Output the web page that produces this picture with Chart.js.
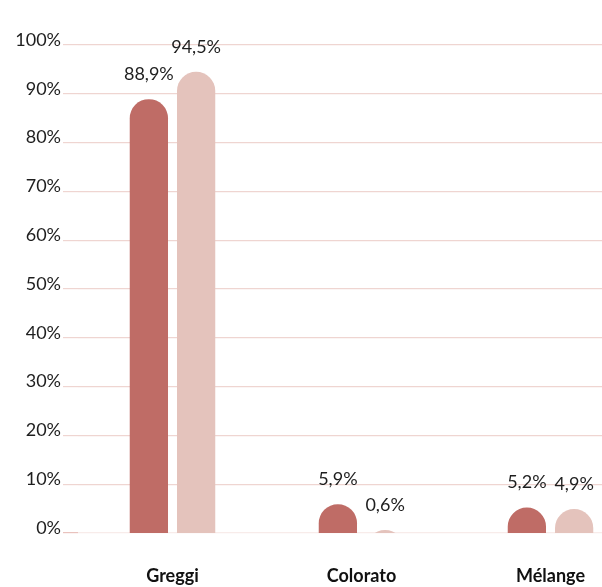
<!DOCTYPE html>
<html>
<head>
<meta charset="utf-8">
<script src="https://cdn.jsdelivr.net/npm/chart.js@4.4.0/dist/chart.umd.min.js"></script>
<style>
  html, body { margin: 0; padding: 0; background: #fff; overflow: hidden; }
  .wrap { width: 645px; height: 587px; }
</style>
</head>
<body>
<div class="wrap"><canvas id="myChart"></canvas></div>
<script>
const categories = ['Greggi', 'Colorato', 'Mélange'];
const seriesA = [88.9, 5.9, 5.2];
const seriesB = [94.5, 0.6, 4.9];
const yTicks = [0, 10, 20, 30, 40, 50, 60, 70, 80, 90, 100];

const fontFamily = 'Lato, "Open Sans", sans-serif';

// etichette sopra le barre
const valueLabels = {
    id: 'valueLabels',
    afterDatasetsDraw(chart) {
        const c = chart.ctx;
        c.save();
        c.font = '18px ' + fontFamily;
        c.fillStyle = '#1e1e1e';
        c.textAlign = 'center';
        c.textBaseline = 'middle';
        chart.data.datasets.forEach((ds, i) => {
            chart.getDatasetMeta(i).data.forEach((bar, j) => {
                c.fillText(ds.data[j].toFixed(1).replace('.', ',') + '%', bar.x, bar.y - 25);
            });
        });
        c.restore();
    }
};

const ctx = document.getElementById('myChart').getContext('2d');
const myChart = new Chart(ctx, {
    type: 'bar',
    data: {
        labels: categories,
        datasets: [{
            data: seriesA,
            backgroundColor: '#bf6c66',
            base: -10,
            clip: { left: false, right: false, top: false, bottom: 0 },
            borderRadius: { topLeft: 19, topRight: 19 },
            borderSkipped: 'bottom',
            barPercentage: 0.81,
            categoryPercentage: 0.5
        }, {
            data: seriesB,
            backgroundColor: '#e4c3bc',
            base: -10,
            clip: { left: false, right: false, top: false, bottom: 0 },
            borderRadius: { topLeft: 19, topRight: 19 },
            borderSkipped: 'bottom',
            barPercentage: 0.81,
            categoryPercentage: 0.5
        }]
    },
    options: {
        responsive: true,
        maintainAspectRatio: false,
        animation: false,
        layout: { padding: { top: 45, left: 0, right: 0, bottom: 0 } },
        plugins: {
            legend: { display: false },
            tooltip: { enabled: false }
        },
        scales: {
            x: {
                grid: { display: false, drawTicks: false },
                border: { display: false },
                ticks: {
                    padding: 32,
                    color: '#111',
                    font: { family: fontFamily, size: 18, weight: 'bold' }
                },
                afterFit: s => { s.height = 54; }
            },
            y: {
                min: 0,
                max: 100,
                afterBuildTicks: s => { s.ticks = yTicks.map(v => ({ value: v })); },
                afterFit: s => { s.width = 78; },
                border: { display: false },
                grid: {
                    color: c => c.index === 0 ? '#f8ecea' : '#efd5d1',
                    tickColor: c => c.index === 0 ? '#e9c2bd' : '#efd5d1',
                    tickLength: 15,
                    lineWidth: 1.2
                },
                ticks: {
                    padding: 2,
                    labelOffset: -5,
                    color: '#1e1e1e',
                    font: { family: fontFamily, size: 18 },
                    callback: v => v + '%'
                }
            }
        }
    },
    plugins: [valueLabels]
});
</script>
</body>
</html>
